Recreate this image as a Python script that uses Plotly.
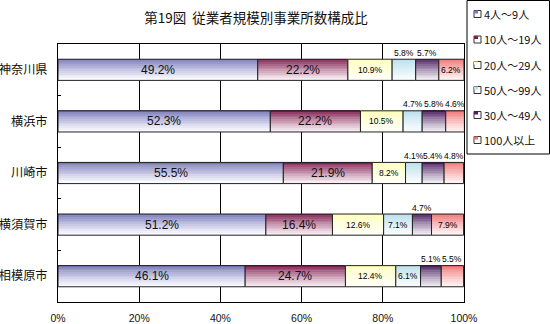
import plotly.graph_objects as go
import numpy as np

categories = ["神奈川県", "横浜市", "川崎市", "横須賀市", "相模原市"]
series_names = ["4人～9人", "10人～19人", "20人～29人", "50人～99人", "30人～49人", "100人以上"]
s1 = [49.2, 52.3, 55.5, 51.2, 46.1]
s2 = [22.2, 22.2, 21.9, 16.4, 24.7]
s3 = [10.9, 10.5, 8.2, 12.6, 12.4]
s4 = [5.8, 4.7, 4.1, 7.1, 6.1]
s5 = [5.7, 5.8, 5.4, 4.7, 5.1]
s6 = [6.2, 4.6, 4.8, 7.9, 5.5]
series = [s1, s2, s3, s4, s5, s6]

top_colors = [(120, 120, 186), (128, 30, 80), (255, 255, 185), (185, 222, 235), (78, 30, 96), (240, 115, 115)]
bot_colors = [(250, 250, 255), (248, 236, 242), (255, 255, 248), (248, 252, 254), (238, 236, 242), (255, 242, 242)]

H = 0.41
N = 12
fig = go.Figure()

bases = []
cum = np.zeros(len(categories))
for vals in series:
    bases.append(cum.copy())
    cum = cum + np.array(vals)

for j, vals in enumerate(series):
    for k in range(N):
        t = k / (N - 1)
        t = t ** 0.8
        c = tuple(int(round(top_colors[j][i] + (bot_colors[j][i] - top_colors[j][i]) * t)) for i in range(3))
        fig.add_trace(go.Bar(
            x=vals, y=categories, base=bases[j], orientation="h",
            width=H / N * 1.02, offset=-H / 2 + k * H / N,
            marker=dict(color="rgb(%d,%d,%d)" % c, line=dict(width=0)),
            name=series_names[j], legendgroup=series_names[j],
            showlegend=False, hoverinfo="skip"))
    fig.add_trace(go.Bar(
        x=vals, y=categories, base=bases[j], orientation="h",
        width=H, offset=-H / 2, name=series_names[j], legendgroup=series_names[j],
        marker=dict(color="rgba(0,0,0,0)", line=dict(color="#222222", width=1)),
        showlegend=False, hovertemplate="%{y} %{x}%<extra>" + series_names[j] + "</extra>"))

annotations = []
for j, vals in enumerate(series):
    for i, v in enumerate(vals):
        xm = bases[j][i] + v / 2
        label = "%.1f%%" % v
        if v < 6:
            annotations.append(dict(x=xm, y=categories[i], text=label, showarrow=False,
                                    yshift=17, font=dict(family="Liberation Sans", size=8.5, color="#000")))
        elif v < 15:
            annotations.append(dict(x=xm, y=categories[i], text=label, showarrow=False,
                                    font=dict(family="Liberation Sans", size=8.5, color="#000")))
        else:
            annotations.append(dict(x=xm, y=categories[i], text=label, showarrow=False,
                                    font=dict(family="Liberation Sans", size=12, color="#111")))

# legend box drawn to the right of the plot (positions in pixels -> paper coords)
PL, PR, PT, PB = 58, 464, 44, 302
def px(x):
    return (x - PL) / (PR - PL)
def py(y):
    return (PB - y) / (PB - PT)

shapes = [dict(type="rect", xref="paper", yref="paper", x0=px(467), x1=px(549.5),
               y0=py(154), y1=py(0.5), line=dict(color="#000", width=1), fillcolor="white", layer="above")]
legend_y = [14, 39.5, 65, 90, 115, 140]
for j, name in enumerate(series_names):
    yc = legend_y[j]
    c = top_colors[j]
    shapes.append(dict(type="rect", xref="paper", yref="paper", x0=px(474), x1=px(481),
                       y0=py(yc + 3.5), y1=py(yc - 3.5), line=dict(color="#333", width=1),
                       fillcolor="white", layer="above"))
    shapes.append(dict(type="rect", xref="paper", yref="paper", x0=px(474), x1=px(478),
                       y0=py(yc - 0.5), y1=py(yc - 3.5), line=dict(width=0),
                       fillcolor="rgb(%d,%d,%d)" % c, layer="above"))
    annotations.append(dict(x=px(482), y=py(yc), xref="paper", yref="paper", text=name,
                            showarrow=False, xanchor="left", yanchor="middle",
                            font=dict(family="Noto Sans CJK JP", size=11, color="#111")))

fig.update_layout(
    width=550, height=324,
    margin=dict(l=PL, r=550 - PR, t=PT, b=324 - PB, autoexpand=False),
    paper_bgcolor="white", plot_bgcolor="white",
    barmode="overlay", showlegend=False,
    title=dict(text="第19図  従業者規模別事業所数構成比", x=256 / 550, xanchor="center",
               y=1 - 18 / 324, yanchor="middle",
               font=dict(family="Noto Sans CJK JP", size=13.5, color="#111")),
    xaxis=dict(range=[0, 100], tickvals=[0, 20, 40, 60, 80, 100],
               ticktext=["0%", "20%", "40%", "60%", "80%", "100%"],
               showgrid=True, gridcolor="#000000", gridwidth=1,
               showline=True, linecolor="#000000", linewidth=1, mirror=True,
               ticks="", zeroline=False, ticklabelstandoff=6,
               tickfont=dict(family="Liberation Sans", size=10.5, color="#111")),
    yaxis=dict(autorange="reversed", categoryorder="array", categoryarray=categories,
               showline=True, linecolor="#000000", linewidth=1, mirror=True,
               ticks="inside", ticklen=3, tickcolor="#000000", tickson="boundaries",
               showgrid=False, ticklabelstandoff=7,
               tickfont=dict(family="Noto Sans CJK JP", size=12.2, color="#111")),
    shapes=shapes,
    annotations=annotations,
)

fig.write_html("out.html")
